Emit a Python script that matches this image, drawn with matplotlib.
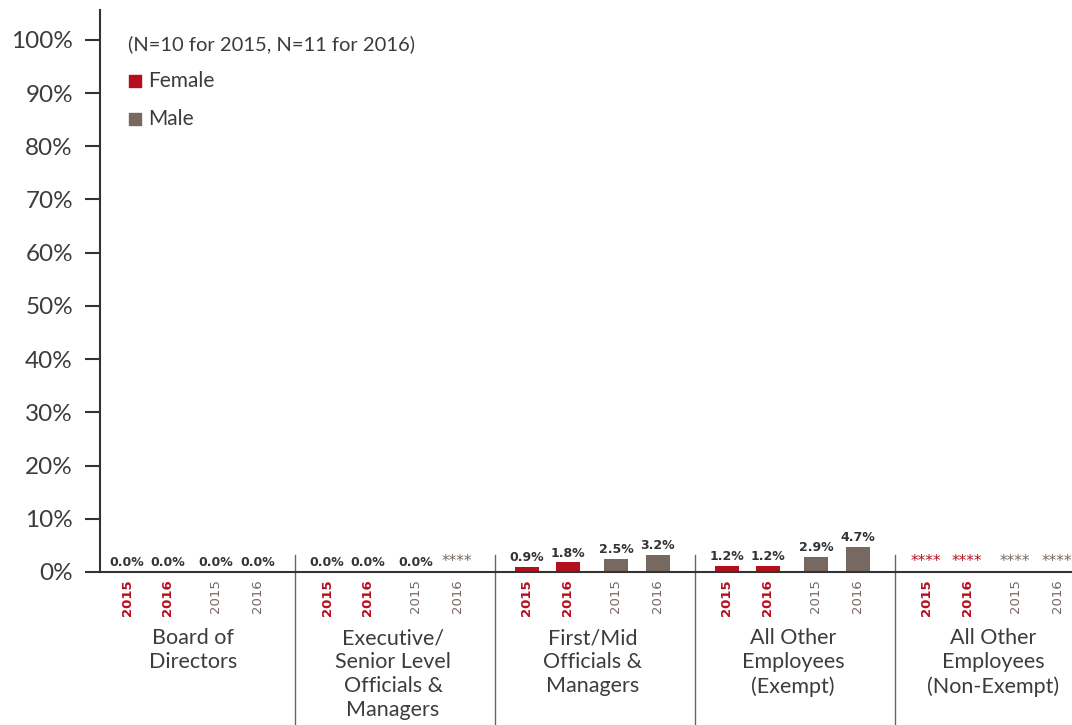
"""Gender breakdown by job category, 2015 vs 2016."""

import matplotlib.pyplot as plt

plt.rcParams["font.family"] = ["Lato", "DejaVu Sans"]

categories = [
    "Board of\nDirectors",
    "Executive/\nSenior Level\nOfficials &\nManagers",
    "First/Mid\nOfficials &\nManagers",
    "All Other\nEmployees\n(Exempt)",
    "All Other\nEmployees\n(Non-Exempt)",
]
years = ["2015", "2016"]
# None = not reported (shown as ****)
female_2015 = [0.0, 0.0, 0.9, 1.2, None]
female_2016 = [0.0, 0.0, 1.8, 1.2, None]
male_2015 = [0.0, 0.0, 2.5, 2.9, None]
male_2016 = [0.0, None, 3.2, 4.7, None]

FEMALE = "#B50F1E"
MALE = "#776860"
INK = "#333333"
TEXT = "#3c3c3c"

series = [
    (female_2015, FEMALE, 0.135, years[0]),
    (female_2016, FEMALE, 0.34, years[1]),
    (male_2015, MALE, 0.58, years[0]),
    (male_2016, MALE, 0.79, years[1]),
]

fig = plt.figure(figsize=(10.72, 7.25), dpi=100)
ax = fig.add_axes([100 / 1072, 1 - 572 / 725, 1 - 100 / 1072, 562 / 725])
ax.set_xlim(0, 4.86)
ax.set_ylim(0, 105.6)

xticks, xlabels, xcolors = [], [], []
for vals, color, off, yr in series:
    for g, v in enumerate(vals):
        x = g + off
        xticks.append(x)
        xlabels.append(yr)
        xcolors.append(color)
        if v is None:
            ax.annotate("****", (x, 0), xytext=(-1, 2), textcoords="offset points",
                        ha="center", va="bottom", fontsize=11, color=color,
                        family=["DejaVu Sans"])
            continue
        ax.bar(x, v, width=0.12, color=color, zorder=2)
        ax.annotate(f"{v:.1f}%", (x, v), xytext=(0, 2), textcoords="offset points",
                    ha="center", va="bottom", fontsize=9, fontweight="bold",
                    color=INK, family=["DejaVu Sans"])

ax.set_xticks(xticks)
ax.set_xticklabels(xlabels, rotation=90, fontsize=9.5, family=["DejaVu Sans"])
for lab, c in zip(ax.get_xticklabels(), xcolors):
    lab.set_color(c)
    lab.set_fontweight("bold" if c == FEMALE else "normal")
ax.tick_params(axis="x", length=0, pad=5)

ax.set_yticks(range(0, 101, 10))
ax.set_yticklabels([f"{t}%" for t in range(0, 101, 10)], fontsize=17.5, color=TEXT)
ax.tick_params(axis="y", length=10.5, width=1.5, color=INK, pad=9)

for side in ("top", "right"):
    ax.spines[side].set_visible(False)
for side in ("left", "bottom"):
    ax.spines[side].set_linewidth(1.5)
    ax.spines[side].set_color(INK)

# group separators and category labels
for g, name in enumerate(categories):
    if g > 0:
        ax.plot([g - 0.025] * 2, [3.2, -28.5], color="#666666", lw=1,
                clip_on=False)
    ax.text(g + 0.465, -10.6, name, ha="center", va="top", fontsize=15.5,
            color=TEXT, linespacing=1.25)

# legend-like annotation
ax.text(0.14, 99.2, "(N=10 for 2015, N=11 for 2016)", ha="left", va="center",
        fontsize=14.5, color=TEXT)
for i, (lab, col) in enumerate([("Female", FEMALE), ("Male", MALE)]):
    y = 92.2 - i * 7.1
    ax.scatter([0.173], [y], marker="s", s=85, color=col, clip_on=False)
    ax.text(0.24, y, lab, ha="left", va="center", fontsize=15, color=TEXT)

fig.savefig("out.png", dpi=100)
